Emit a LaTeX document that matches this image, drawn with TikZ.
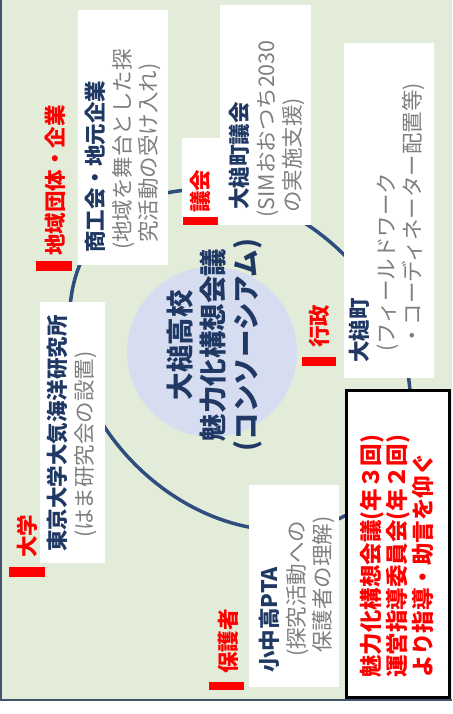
\documentclass[tikz,border=0pt]{standalone}
\usepackage{fontspec}
\setmainfont{Noto Sans CJK JP}
\definecolor{bggreen}{HTML}{E2ECD9}
\definecolor{ringblue}{HTML}{2F4D7E}
\definecolor{hubblue}{HTML}{D7DDF0}
\definecolor{navytext}{HTML}{1F3864}
\definecolor{graytext}{HTML}{7F7F7F}
\definecolor{edgeline}{HTML}{44546A}
\begin{document}
\begin{tikzpicture}[x=1pt,y=1pt,
    member/.style={rotate=90, anchor=north west, inner sep=0, align=left,
      text=graytext, font=\fontsize{21.5}{26.5}\selectfont},
    sector/.style={rotate=90, anchor=west, inner sep=0, text=red,
      font=\fontsize{21.5}{26}\selectfont\bfseries},
    panel/.style={fill=white},
    redbar/.style={fill=red}]
    \useasboundingbox (0,0) rectangle (452,-714);
    % background
    \fill[bggreen] (0,0) rectangle (452,-700);
    \draw[edgeline, line width=1.5pt] (1,0) -- (1,-700) -- (452,-700);
    % ring and hub
    \draw[ringblue, line width=3.5pt, rotate around={-45:(240,-360)}] (240,-360) ellipse [x radius=190pt, y radius=148pt];
    \fill[hubblue] (212,-352) circle [radius=85pt];
    \node[rotate=90, align=center, text=navytext, font=\fontsize{27.5}{33}\selectfont\bfseries] (hub) at (215,-345) {大槌高校\\魅力化構想会議\\(コンソーシアム)};
    % panels
    \fill[panel] (78,-10) rectangle (168,-265);
    \fill[panel] (220,-5) rectangle (311,-225);
    \fill[panel] (182,-138) rectangle (220,-225);
    \fill[panel] (344,-43) rectangle (434,-378);
    \fill[panel] (40,-302) rectangle (105,-563);
    \fill[panel] (249,-485) rectangle (339,-687);
    \draw[line width=3pt, fill=white] (346,-390) rectangle (449,-697);
    % red bars
    \fill[redbar] (36,-261) rectangle (72,-271);
    \fill[redbar] (183,-217) rectangle (218,-225);
    \fill[redbar] (9,-567) rectangle (45,-577);
    \fill[redbar] (302,-357) rectangle (336,-366);
    \fill[redbar] (209,-682) rectangle (244,-690);
    % sector labels
    \node[sector] (chiiki) at (55,-256) {地域団体・企業};
    \node[sector] (gikai) at (200,-213) {議会};
    \node[sector] (daigaku) at (27,-558) {大学};
    \node[sector] (gyosei) at (319,-348) {行政};
    \node[sector] (hogosha) at (228,-674) {保護者};
    % members
    \node[member] (shokokai) at (85,-253) {\textcolor{navytext}{\bfseries 商工会・地元企業}\\\hspace*{3pt}(地域を舞台とした探\\\hspace*{10pt}究活動の受け入れ)};
    \node[member] (chogikai) at (229,-218) {\hspace*{8pt}\textcolor{navytext}{\bfseries 大槌町議会}\\(SIMおおつち2030\\\hspace*{5pt}の実施支援)};
    \node[member] (ootsuchi) at (349,-363) {\textcolor{navytext}{\bfseries 大槌町}\\\hspace*{11pt}(フィールドワーク\\\hspace*{16pt}・コーディネーター配置等)};
    \node[member] (aori) at (47,-552) {\textcolor{navytext}{\bfseries 東京大学大気海洋研究所}\\\hspace*{14pt}(はま研究会の設置)};
    \node[member] (pta) at (259,-673) {\textcolor{navytext}{\bfseries 小中高PTA}\\\hspace*{16pt}(探究活動への\\\hspace*{20pt}保護者の理解)};
    % advisory note
    \node[member, text=red, font=\fontsize{22.5}{26}\selectfont\bfseries] (advice) at (359.5,-678) {魅力化構想会議(年３回)\\運営指導委員会(年２回)\\より指導・助言を仰ぐ};
\end{tikzpicture}
\end{document}
